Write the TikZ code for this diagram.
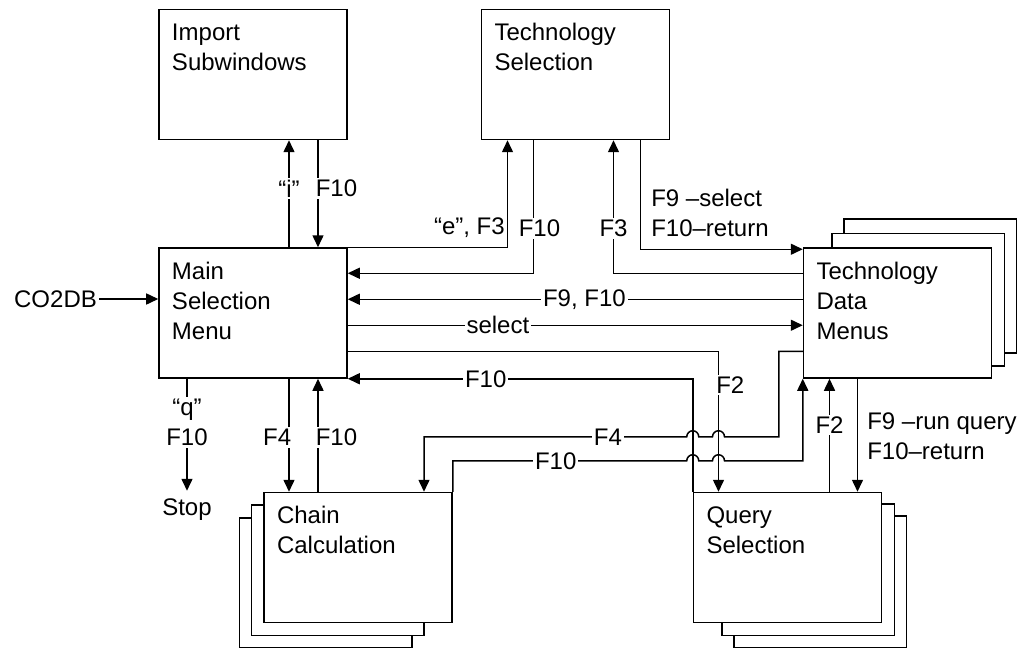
\documentclass[tikz,border=0pt]{standalone}
\usepackage{fontspec}
\setmainfont{Liberation Sans}
\usetikzlibrary{arrows.meta,positioning,backgrounds}
\newcommand{\wintext}[1]{\parbox[c][51pt][t]{81pt}{#1}}

\begin{document}
\begin{tikzpicture}[
  every node/.style={font=\fontsize{12}{15}\selectfont},
  win/.style={draw, line width=0.75pt, fill=white, inner xsep=6.5pt, inner ysep=7pt},
  sheet/.style={draw, line width=0.75pt, fill=white},
  term/.style={inner sep=1pt},
  lbl/.style={fill=white, inner sep=1pt},
  arrow/.style={-{Triangle[length=6pt,width=5.5pt]}, line width=0.75pt}
]
\node[win] (main) {\wintext{Main\\Selection\\Menu}};
\node[win, above=53.5pt of main] (imp) {\wintext{Import\\Subwindows}};
\node[win, right=66.5pt of imp] (tsel) {\wintext{Technology\\Selection}};
\node[win, right=227.5pt of main] (tdata) {\wintext{Technology\\Data\\Menus}};
\node[win, below=56.5pt of main, xshift=52.5pt] (chain) {\wintext{Chain\\Calculation}};
\node[win, right=120pt of chain] (query) {\wintext{Query\\Selection}};
\node[term, left=29.5pt of main, yshift=7pt] (co2db) {CO2DB};
\node[term, inner ysep=4pt, below=56pt of main.south, xshift=-33pt] (stop) {Stop};
\coordinate (hopb) at ([xshift=-34.5pt]query.north);

\useasboundingbox ([shift={(-126.5pt,156.5pt)}]main.center) rectangle ++(515.5pt,-324pt);

\begin{scope}[on background layer]
  \foreach \k in {2,1} {
    \draw[sheet] ([shift={(-6pt*\k,-6.5pt*\k)}]chain.north west) rectangle ([shift={(-6pt*\k-8.5pt,-6pt*\k)}]chain.south east);
    \draw[sheet] ([shift={(6pt*\k+8.5pt,-6pt*\k)}]query.north west) rectangle ([shift={(6pt*\k,-6pt*\k)}]query.south east);
    \draw[sheet] ([shift={(6pt*\k+8.5pt,7pt*\k)}]tdata.north west) rectangle ([shift={(6pt*\k,6.5pt*\k)}]tdata.south east);
  }
\end{scope}

\draw[arrow] (co2db) -- (co2db -| main.west);
\draw[arrow] ([xshift=18pt]main.north) -- ([xshift=18pt]main.north |- imp.south) node[lbl, pos=0.55] {``i''};
\draw[arrow] ([xshift=32.5pt]imp.south) -- ([xshift=32.5pt]imp.south |- main.north) node[lbl, pos=0.45, anchor=west, xshift=-2.5pt] {F10};
\draw[arrow] (main.north east) -| ([xshift=-34pt]tsel.south) node[lbl, pos=0.5, above left, yshift=3.5pt] {``e'', F3};
\draw[arrow] ([xshift=-21pt]tsel.south) |- ([yshift=-13pt]main.north east) node[lbl, pos=0.33, xshift=3pt] {F10};
\draw[arrow] ([yshift=-13pt]tdata.north west) -| ([xshift=19pt]tsel.south) node[lbl, pos=0.67] {F3};
\draw[arrow] ([xshift=32.5pt]tsel.south) |- ([yshift=-1pt]tdata.north west) node[lbl, pos=0.5, above right, xshift=4pt, yshift=5pt, align=left] {F9 --select\\F10--return};
\draw[arrow] ([yshift=-26pt]tdata.north west) -- ([yshift=-26pt]main.north east) node[lbl, pos=0.48] {F9, F10};
\draw[arrow] ([yshift=-39pt]main.north east) -- ([yshift=-39pt]tdata.north west) node[lbl, pos=0.33] {select};
\draw[arrow] ([yshift=-52pt]main.north east) -| (hopb) node[lbl, pos=0.62, anchor=west, xshift=-2.5pt] {F2};
\draw[arrow] (query.north west) |- (main.south east) node[lbl, pos=0.8] {F10};
\draw[arrow] ([xshift=18pt]main.south) -- ([xshift=18pt]main.south |- chain.north) node[lbl, pos=0.52, anchor=east, xshift=2.5pt] {F4};
\draw[arrow] ([xshift=32.5pt]main.south |- chain.north) -- ([xshift=32.5pt]main.south) node[lbl, pos=0.48, anchor=west, xshift=-2.5pt] {F10};
\draw[arrow] ([xshift=-33pt]main.south) -- (stop) node[lbl, pos=0.39, align=center] {``q''\\F10};
\draw[arrow] ([yshift=-52pt]tdata.north west) -- ++(-12pt,0) |- ([shift={(3pt,27.5pt)}]hopb)
  arc[start angle=0, end angle=180, radius=3pt] -- ([shift={(3pt,27.5pt)}]query.north west)
  arc[start angle=0, end angle=180, radius=3pt] -| ([xshift=33pt]chain.north) node[lbl, pos=0.15] {F4};
\draw[arrow] (chain.north east) |- ([shift={(-3pt,15.5pt)}]query.north west) node[lbl, pos=0.72] {F10}
  arc[start angle=180, end angle=0, radius=3pt] -- ([shift={(-3pt,15.5pt)}]hopb)
  arc[start angle=180, end angle=0, radius=3pt] -| (tdata.south west);
\draw[arrow] ([xshift=21pt]query.north) -- ([xshift=21pt]query.north |- tdata.south) node[lbl, pos=0.59] {F2};
\draw[arrow] ([xshift=35pt]query.north |- tdata.south) -- ([xshift=35pt]query.north) node[lbl, pos=0.51, anchor=west, xshift=3.5pt, align=left] {F9 --run query\\F10--return};
\end{tikzpicture}
\end{document}
